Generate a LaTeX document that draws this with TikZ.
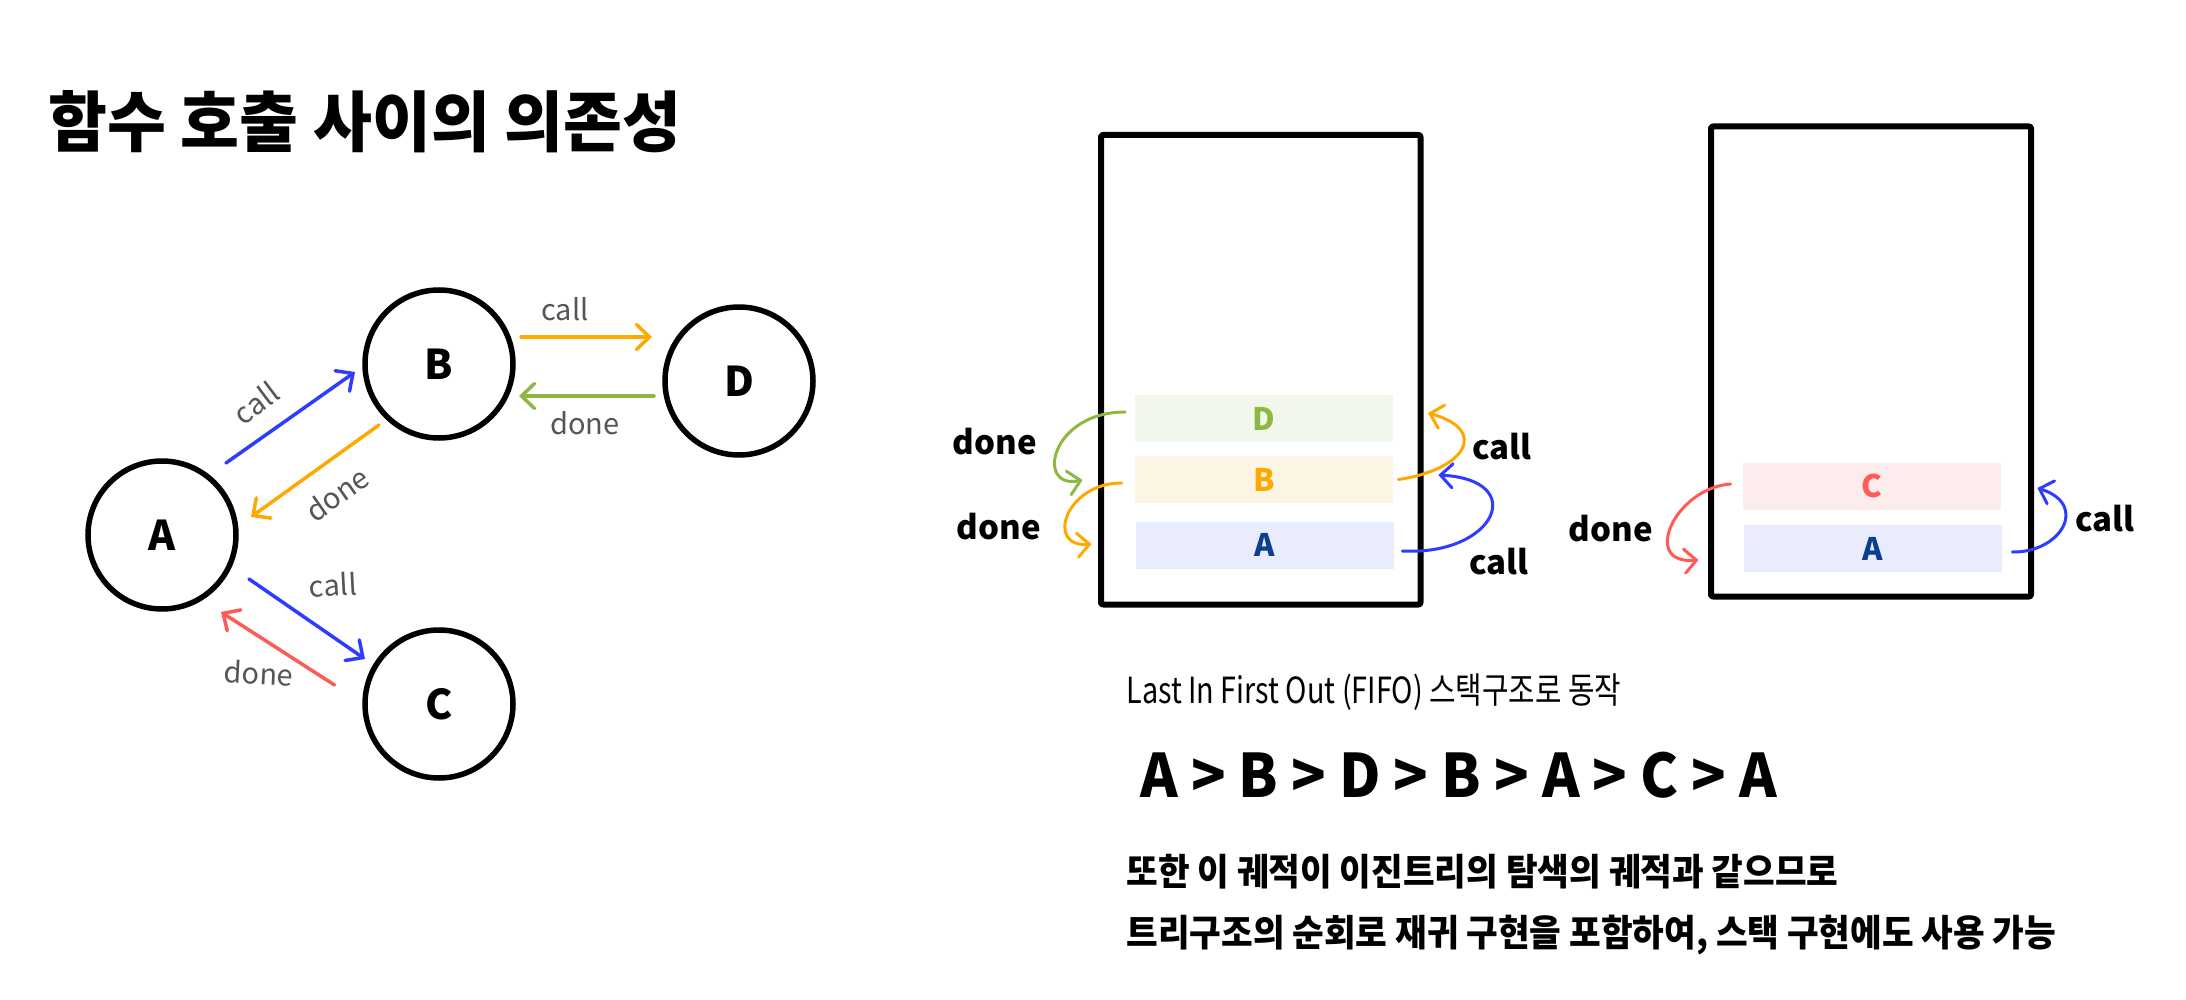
\documentclass[tikz,border=0pt]{standalone}
\usepackage{fontspec}
\setmainfont{Noto Sans CJK KR}
\newfontfamily\krT[FakeStretch=0.97]{Noto Sans CJK KR}
\newfontfamily\krN[FakeStretch=0.93]{Noto Sans CJK KR}
\newfontfamily\krL[FakeStretch=0.80]{Noto Sans CJK KR}
\newfontfamily\krS[FakeStretch=0.95]{Noto Sans CJK KR}
\usetikzlibrary{arrows.meta}
\definecolor{cblue}{HTML}{2E3CFF}
\definecolor{corange}{HTML}{FFA800}
\definecolor{cgreen}{HTML}{8DB843}
\definecolor{cred}{HTML}{FF5A55}
\definecolor{cnavy}{HTML}{0B3D91}
\definecolor{cgray}{HTML}{555555}
\definecolor{fgreen}{HTML}{F2F7EB}
\definecolor{forange}{HTML}{FDF5E4}
\definecolor{fblue}{HTML}{E8ECFC}
\definecolor{fred}{HTML}{FDECEC}
\begin{document}
\begin{tikzpicture}[x=0.5pt,y=-0.5pt,
  circ/.style={circle, draw, line width=2.75pt, minimum size=74pt, inner sep=0pt,
    font=\bfseries\fontsize{20.5pt}{22pt}\selectfont},
  glab/.style={text=cgray, inner sep=0pt, font=\fontsize{14.5pt}{16pt}\selectfont},
  garr/.style={line width=1.75pt, line cap=round, line join=round,
    -{Straight Barb[length=6.5pt,width=12.5pt,line cap=round]}},
  carr/.style={line width=1.5pt, line cap=round, line join=round,
    -{Straight Barb[length=6pt,width=12pt,line cap=round]}},
  stackrow/.style={minimum width=129pt, minimum height=23.5pt, inner sep=0pt,
    font=\bfseries\fontsize{15.5pt}{17pt}\selectfont},
  slab/.style={inner sep=0pt, font=\bfseries\fontsize{16.5pt}{18pt}\selectfont},
  frame/.style={line width=3pt, line join=round, rounded corners=1pt}
]
\useasboundingbox (0,0) rectangle (2186,1000);

% title
\node[anchor=base west, inner sep=0pt, font=\krT\bfseries\fontsize{33pt}{36pt}\selectfont]
  (title) at (48,147) {함수 호출 사이의 의존성};

% graph
\node[circ] (A) at (162,535) {A};
\node[circ] (B) at (439,364) {B};
\node[circ] (D) at (739,381) {D};
\node[circ] (C) at (439,704) {C};

\draw[garr,cblue] ([shift={(64,-72)}]A.center) -- ([shift={(-84,8)}]B.center);
\draw[garr,corange] ([shift={(-60,61)}]B.center) -- ([shift={(89,-18)}]A.center);
\draw[garr,corange] ([shift={(82,-27)}]B.center) -- ([shift={(-87,-44)}]D.center);
\draw[garr,cgreen] ([shift={(-85,15)}]D.center) -- ([shift={(80,32)}]B.center);
\draw[garr,cblue] ([shift={(87,44)}]A.center) -- ([shift={(-74,-45)}]C.center);
\draw[garr,cred] ([shift={(-104.5,-19)}]C.center) -- ([shift={(59,77)}]A.center);

\node[glab, rotate=37] (l1) at (256,403) {call};
\node[glab, rotate=35] (l2) at (337,494) {done};
\node[glab] (l3) at (565,309) {call};
\node[glab] (l4) at (585,423) {done};
\node[glab, rotate=3] (l5) at (333,585) {call};
\node[glab, rotate=-3] (l6) at (259,673) {done};

% stack 1
\draw[frame] (1101,135) rectangle (1420.5,604.5);
\node[stackrow, fill=fgreen, text=cgreen] (sD) at (1263.5,418.5) {D};
\node[stackrow, fill=forange, text=corange] (sB) at (1264,479.5) {B};
\node[stackrow, fill=fblue, text=cnavy] (sA) at (1265,545) {A};

\draw[carr,cgreen] ([shift={(-9,-6.5)}]sD.west) .. controls (1050,412) and (1035,490) .. ([shift={(-52,0.5)}]sB.west);
\draw[carr,corange] ([shift={(-13,3.5)}]sB.west) .. controls (1065,483) and (1045,548) .. ([shift={(-44,-1)}]sA.west);
\draw[carr,corange] ([shift={(5,0)}]sB.east) .. controls (1465,470) and (1490,430) .. ([shift={(35,-5.5)}]sD.east);
\draw[carr,cblue] ([shift={(8,6)}]sA.east) .. controls (1495,556) and (1530,480) .. ([shift={(45,-4.5)}]sB.east);

\node[slab] (d1) at (995,442) {done};
\node[slab] (d2) at (999,527) {done};
\node[slab] (c1) at (1502,447) {call};
\node[slab] (c2) at (1499,562) {call};

% stack 2
\draw[frame] (1711,126.5) rectangle (2031,596.5);
\node[stackrow, fill=fred, text=cred] (tC) at (1872,486) {C};
\node[stackrow, fill=fblue, text=cnavy] (tA) at (1873,548.5) {A};

\draw[carr,cred] ([shift={(-12,-2)}]tC.west) .. controls (1675,488) and (1640,565) .. ([shift={(-45,11.5)}]tA.west);
\draw[carr,cblue] ([shift={(10,3.5)}]tA.east) .. controls (2060,553) and (2090,505) .. ([shift={(36,2)}]tC.east);

\node[slab] (d3) at (1611,529) {done};
\node[slab] (c3) at (2105,519) {call};

% bottom texts
\node[anchor=base west, inner sep=0pt, font=\krL\fontsize{18pt}{20pt}\selectfont]
  (lifo) at (1126,703) {Last In First Out (FIFO) 스택구조로 동작};
\node[anchor=base west, inner sep=0pt, font=\krS\bfseries\fontsize{30pt}{32pt}\selectfont]
  (seq) at (1140,797) {A > B > D > B > A > C > A};
\node[anchor=base west, inner sep=0pt, font=\krN\bfseries\fontsize{18.5pt}{20pt}\selectfont]
  (line1) at (1126,885) {또한 이 궤적이 이진트리의 탐색의 궤적과 같으므로};
\node[anchor=base west, inner sep=0pt, font=\krN\bfseries\fontsize{18.5pt}{20pt}\selectfont]
  (line2) at (1126,946) {트리구조의 순회로 재귀 구현을 포함하여, 스택 구현에도 사용 가능};
\end{tikzpicture}
\end{document}
